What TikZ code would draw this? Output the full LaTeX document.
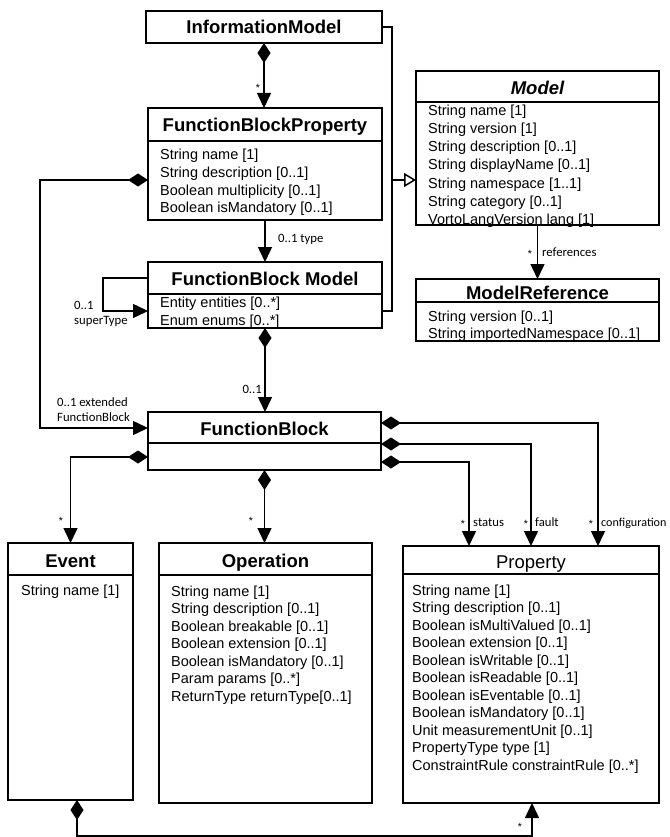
\documentclass[tikz,border=0pt]{standalone}
\usepackage{fontspec}
\setmainfont{Liberation Sans}
\newfontfamily\labfont{Carlito}
\usetikzlibrary{arrows.meta,calc}
\tikzset{
  box/.style={draw, line width=1.8pt, rectangle, inner sep=0pt, outer sep=0pt, anchor=north west},
  sepline/.style={line width=1.8pt},
  conn/.style={line width=1.5pt},
  arr/.style={-{Triangle[length=15pt,width=14pt]}},
  diaarr/.style={{Diamond[length=20pt,width=13pt]}-{Triangle[length=15pt,width=14pt]}},
  gen/.style={-{Triangle[open,length=12pt,width=14pt,fill=white]}},
  ttl/.style={font=\fontsize{18.5}{20}\selectfont\bfseries, anchor=base, inner sep=0pt},
  ttlplain/.style={font=\fontsize{18.5}{20}\selectfont, anchor=base, inner sep=0pt},
  att/.style={font=\fontsize{14.5}{17.5}\selectfont, anchor=base west, inner sep=0pt},
  lab/.style={font=\labfont\fontsize{12.7}{14}\selectfont, anchor=base west, inner sep=0pt},
  starlab/.style={font=\fontsize{10.5}{11}\selectfont, anchor=base, inner sep=0pt},
}
\newcommand\attlist[5]{%
  \foreach \t [count=\i from 0] in {#5} {\node[att] (#1\i) at (#2, {#3+#4*\i}) {\t};}}
\begin{document}
\begin{tikzpicture}[x=1pt,y=-1pt]
\useasboundingbox (0,0) rectangle (669,837);
\clip (0,0) rectangle (669,837);

% boxes
\node[box, minimum width=236pt, minimum height=32pt] (im) at (146,11) {};
\node[box, minimum width=234pt, minimum height=112pt] (fbp) at (148,108) {};
\node[box, minimum width=243pt, minimum height=154pt] (model) at (416,71) {};
\node[box, minimum width=243pt, minimum height=62pt] (mref) at (416,279) {};
\node[box, minimum width=234pt, minimum height=66pt] (fbm) at (148,262) {};
\node[box, minimum width=233pt, minimum height=58pt] (fb) at (148,412) {};
\node[box, minimum width=125pt, minimum height=257pt] (event) at (8,543) {};
\node[box, minimum width=213pt, minimum height=260pt] (op) at (159,543) {};
\node[box, minimum width=256pt, minimum height=257pt] (prop) at (403,546) {};

% separators
\draw[sepline] ($(fbp.north west)+(0,33)$) -- ($(fbp.north east)+(0,33)$);
\draw[sepline] ($(model.north west)+(0,31)$) -- ($(model.north east)+(0,31)$);
\draw[sepline] ($(mref.north west)+(0,23)$) -- ($(mref.north east)+(0,23)$);
\draw[sepline] ($(fbm.north west)+(0,32)$) -- ($(fbm.north east)+(0,32)$);
\draw[sepline] ($(fb.north west)+(0,31)$) -- ($(fb.north east)+(0,31)$);
\draw[sepline] ($(event.north west)+(0,32)$) -- ($(event.north east)+(0,32)$);
\draw[sepline] ($(op.north west)+(0,32)$) -- ($(op.north east)+(0,32)$);
\draw[sepline] ($(prop.north west)+(0,28)$) -- ($(prop.north east)+(0,28)$);

% titles
\node[ttl] (imt) at (264,33.5) {InformationModel};
\node[ttl] (fbpt) at (265,131.5) {FunctionBlockProperty};
\node[ttl, font=\fontsize{18.5}{20}\selectfont\bfseries\itshape] (modelt) at (537.5,94.5) {Model};
\node[ttl] (mreft) at (537.5,299.5) {ModelReference};
\node[ttl] (fbmt) at (265,285.5) {FunctionBlock Model};
\node[ttl] (fbt) at (264.5,435.5) {FunctionBlock};
\node[ttl] (eventt) at (70.5,567.5) {Event};
\node[ttl] (opt) at (265.5,567.5) {Operation};
\node[ttlplain] (propt) at (531,568.5) {Property};

% attributes
\attlist{fbpa}{160}{160}{17.5}{String name [1],String description [0..1],Boolean multiplicity [0..1],Boolean isMandatory [0..1]}
\attlist{modela}{428}{116}{18}{String name [1],String version [1],String description [0..1],String displayName [0..1],String namespace [1..1],String category [0..1],VortoLangVersion lang [1]}
\attlist{mrefa}{428}{321}{17}{String version [0..1],String importedNamespace [0..1]}
\attlist{fbma}{160}{307}{18}{Entity entities [0..*],Enum enums [0..*]}
\attlist{eventa}{21}{595}{17.5}{String name [1]}
\attlist{opa}{171}{596}{17.5}{String name [1],String description [0..1],Boolean breakable [0..1],Boolean extension [0..1],Boolean isMandatory [0..1],Param params [0..*],ReturnType returnType[0..1]}
\attlist{propa}{412}{595}{17.5}{String name [1],String description [0..1],Boolean isMultiValued [0..1],Boolean extension [0..1],Boolean isWritable [0..1],Boolean isReadable [0..1],Boolean isEventable [0..1],Boolean isMandatory [0..1],Unit measurementUnit [0..1],PropertyType type [1],ConstraintRule constraintRule [0..*]}

% connectors
\draw[conn, diaarr] (im.south) -- (im.south |- fbp.north);
\node[starlab] (s1) at (258,91.5) {*};

\draw[conn, arr] (fbp.south) -- (fbm.north);
\node[lab] (l1) at (278,242) {0..1 type};

\draw[conn, arr] ($(fbm.north west)+(0,16)$) -- ++(-45,0) |- ($(fbm.north west)+(0,49)$);
\node[lab] (l2) at (74,309) {0..1};
\node[lab] (l3) at (74,324.5) {superType};

\draw[conn, diaarr] (fbm.south) -- (fbm.south |- fb.north);
\node[lab, anchor=base east] (l4) at (262,393) {0..1};

\draw[conn, diaarr] ($(fbp.north west)+(0,72)$) -- ++(-108,0) |- ($(fb.north west)+(0,16)$);
\node[lab] (l5) at (57,406) {0..1 extended};
\node[lab] (l6) at (57,421) {FunctionBlock};

\coordinate (genpt) at ($(model.north west)+(0,109)$);
\draw[conn, gen] (im.east) -- ++(10,0) |- (genpt);
\draw[conn] ($(fbm.north east)+(0,49)$) -- ++(10,0) |- (im.east);

\draw[conn, arr] (model.south) -- (mref.north);
\node[starlab] (s2) at (530,257.5) {*};
\node[lab] (l7) at (542,256) {references};

\draw[conn, diaarr] ($(fb.north west)+(0,45)$) -| (event.north);
\node[starlab] (s3) at (61,524.5) {*};

\draw[conn, diaarr] (fb.south) -- (fb.south |- op.north);
\node[starlab] (s4) at (251,524.5) {*};

\draw[conn, diaarr] ($(fb.north east)+(0,11)$) -| ($(prop.north west)+(195,0)$);
\draw[conn, diaarr] ($(fb.north east)+(0,32)$) -| ($(prop.north west)+(128,0)$);
\draw[conn, diaarr] ($(fb.north east)+(0,50)$) -| ($(prop.north west)+(66,0)$);
\node[starlab] (s5) at (463,527.5) {*};
\node[lab] (l8) at (473,526) {status};
\node[starlab] (s6) at (526,527.5) {*};
\node[lab] (l9) at (535,526) {fault};
\node[starlab] (s7) at (591,527.5) {*};
\node[lab, font=\labfont\fontsize{12.1}{14}\selectfont] (l10) at (601,526) {configuration};

\draw[conn, diaarr] ($(event.south west)+(69,0)$) -- ++(0,36.2) -| ($(prop.south west)+(129,0)$);
\node[starlab] (s8) at (520,830.5) {*};
\end{tikzpicture}
\end{document}
